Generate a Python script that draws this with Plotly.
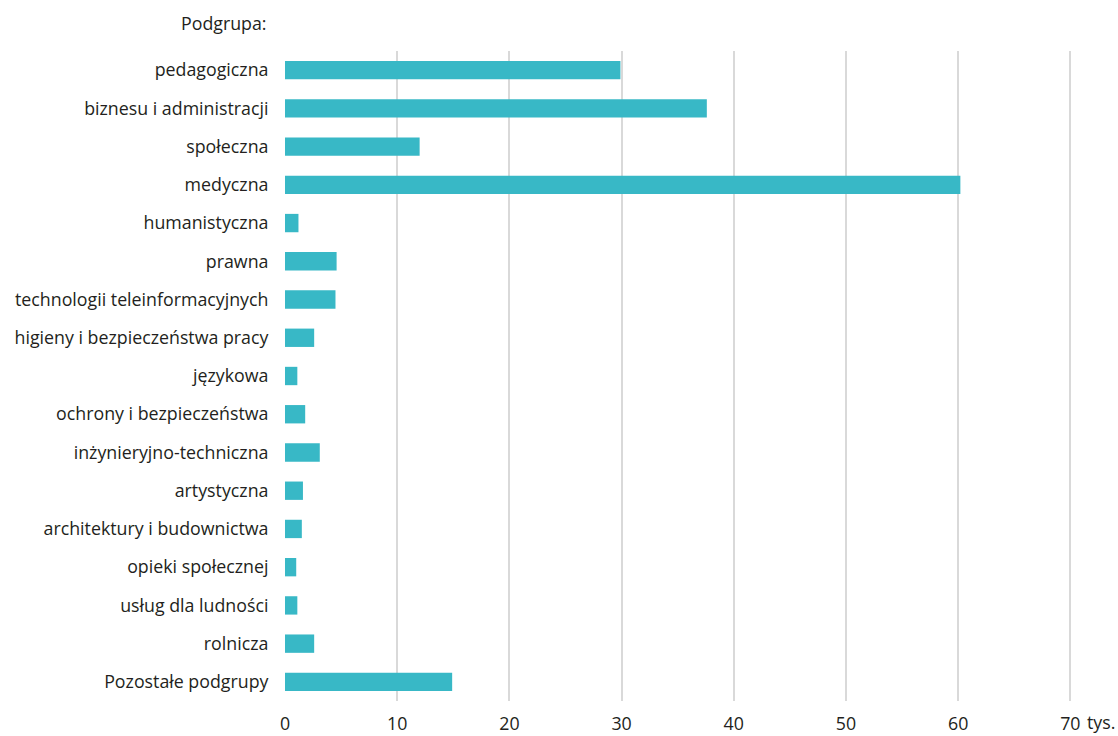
import plotly.graph_objects as go

categories = [
    "pedagogiczna", "biznesu i administracji", "społeczna", "medyczna",
    "humanistyczna", "prawna", "technologii teleinformacyjnych",
    "higieny i bezpieczeństwa pracy", "językowa", "ochrony i bezpieczeństwa",
    "inżynieryjno-techniczna", "artystyczna", "architektury i budownictwa",
    "opieki społecznej", "usług dla ludności", "rolnicza", "Pozostałe podgrupy",
]
values = [29.9, 37.6, 12.0, 60.2, 1.2, 4.6, 4.5, 2.6, 1.1, 1.8, 3.1, 1.6, 1.5, 1.0, 1.1, 2.6, 14.9]
tick_vals = [0, 10, 20, 30, 40, 50, 60, 70]
tick_text = ["0", "10", "20", "30", "40", "50", "60", "70"]

FONT = "Open Sans"
TXT = "#231f20"
FS = 17.8

fig = go.Figure(go.Bar(
    x=values, y=categories, orientation="h",
    marker=dict(color="#38b8c6", line=dict(width=0)),
    width=0.48, hoverinfo="x+y",
))

fig.update_layout(
    width=1118, height=736,
    margin=dict(l=285, r=46, t=51, b=35),
    paper_bgcolor="white", plot_bgcolor="white",
    font=dict(family=FONT, size=FS, color=TXT),
    showlegend=False,
    xaxis=dict(
        range=[0, 70.15], tickvals=tick_vals, ticktext=tick_text,
        showgrid=True, gridcolor="#d9d9d9", gridwidth=2,
        zeroline=False, showline=False, automargin=False,
        ticks="outside", ticklen=7, tickcolor="rgba(0,0,0,0)",
        tickfont=dict(family=FONT, size=FS, color=TXT),
        fixedrange=True,
    ),
    yaxis=dict(
        autorange="reversed", showgrid=False, zeroline=False, showline=False,
        automargin=False,
        ticks="outside", ticklen=12, tickcolor="rgba(0,0,0,0)",
        tickfont=dict(family=FONT, size=FS, color=TXT),
        fixedrange=True,
    ),
    annotations=[
        dict(text="Podgrupa:", xref="paper", yref="paper", x=0, y=1,
             xanchor="right", yanchor="bottom", xshift=-16, yshift=14,
             showarrow=False, font=dict(family=FONT, size=FS, color=TXT)),
        dict(text="tys.", xref="x", yref="paper", x=70, y=0,
             xanchor="left", yanchor="top", xshift=15, yshift=-7,
             showarrow=False, font=dict(family=FONT, size=FS, color=TXT)),
    ],
)

fig.write_html("out.html", config={"displayModeBar": False},
               post_script="document.body.style.margin='0';document.body.style.overflow='hidden';")
